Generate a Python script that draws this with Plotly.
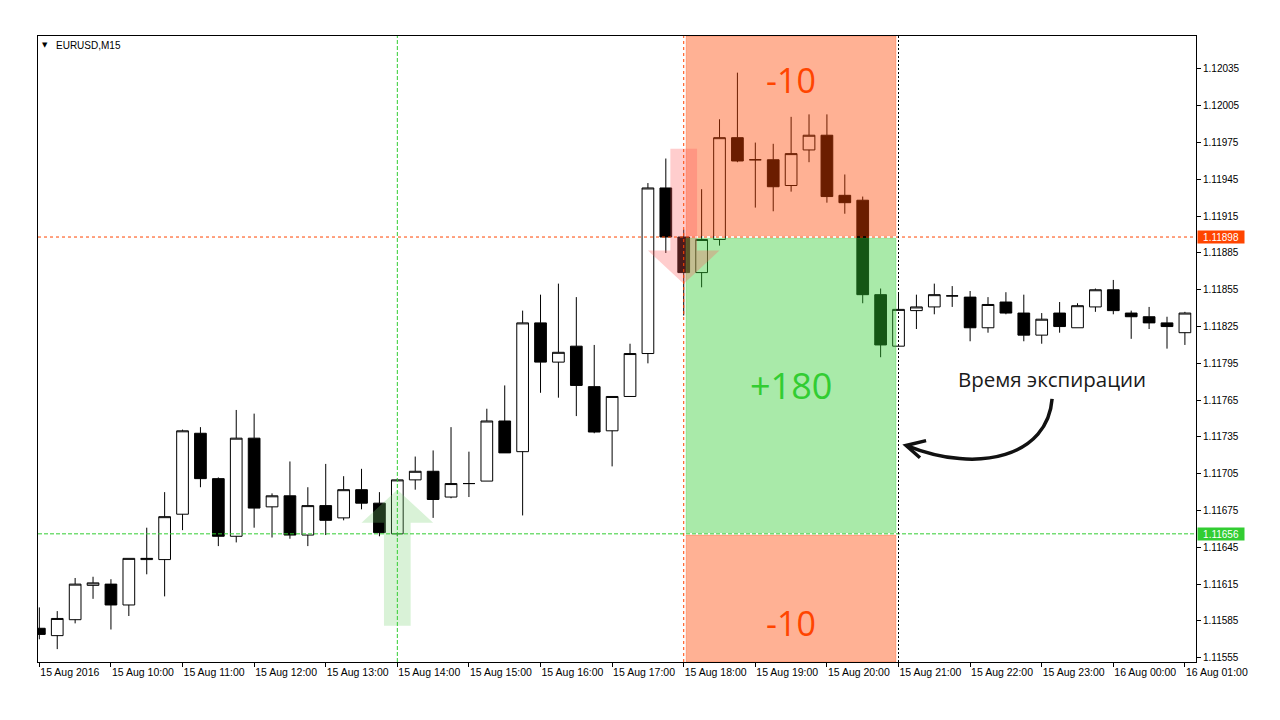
import plotly.graph_objects as go

# ---------------- data ----------------
bar_index = list(range(65))
opens = [1.11579, 1.11573, 1.11586, 1.11614, 1.11615, 1.11598, 1.11635, 1.11635, 1.11672, 1.11738,
         1.11701, 1.11654, 1.11734, 1.11678, 1.11687, 1.11655, 1.11679, 1.11669, 1.11692, 1.11681,
         1.11656, 1.11700, 1.11707, 1.11686, 1.11697, 1.11699, 1.11748, 1.11723, 1.11828, 1.11796,
         1.11809, 1.11776, 1.11740, 1.11768, 1.11803, 1.11938, 1.11898, 1.11869, 1.11896, 1.11979,
         1.11961, 1.11961, 1.11940, 1.11969, 1.11981, 1.11932, 1.11928, 1.11851, 1.11809, 1.11838,
         1.11841, 1.11850, 1.11849, 1.11824, 1.11845, 1.11836, 1.11818, 1.11836, 1.11824, 1.11841,
         1.11855, 1.11836, 1.11833, 1.11828, 1.11820]
highs = [1.11596, 1.11593, 1.11620, 1.11621, 1.11619, 1.11636, 1.11661, 1.11690, 1.11741, 1.11743,
         1.11702, 1.11757, 1.11754, 1.11689, 1.11715, 1.11694, 1.11713, 1.11703, 1.11709, 1.11690,
         1.11701, 1.11719, 1.11724, 1.11743, 1.11723, 1.11758, 1.11777, 1.11838, 1.11851, 1.11860,
         1.11849, 1.11810, 1.11768, 1.11811, 1.11942, 1.11962, 1.11904, 1.11937, 1.11994, 1.12032,
         1.11975, 1.11974, 1.11996, 1.11998, 1.11998, 1.11949, 1.11931, 1.11856, 1.11852, 1.11851,
         1.11860, 1.11858, 1.11854, 1.11849, 1.11853, 1.11851, 1.11836, 1.11845, 1.11844, 1.11856,
         1.11863, 1.11838, 1.11841, 1.11833, 1.11837]
lows = [1.11570, 1.11562, 1.11583, 1.11603, 1.11578, 1.11589, 1.11623, 1.11605, 1.11659, 1.11694,
        1.11646, 1.11649, 1.11661, 1.11653, 1.11652, 1.11646, 1.11655, 1.11667, 1.11676, 1.11654,
        1.11654, 1.11692, 1.11669, 1.11685, 1.11686, 1.11699, 1.11722, 1.11671, 1.11771, 1.11767,
        1.11752, 1.11738, 1.11711, 1.11768, 1.11795, 1.11885, 1.11834, 1.11857, 1.11891, 1.11959,
        1.11922, 1.11919, 1.11935, 1.11959, 1.11926, 1.11917, 1.11844, 1.11800, 1.11809, 1.11823,
        1.11835, 1.11841, 1.11813, 1.11820, 1.11835, 1.11813, 1.11811, 1.11820, 1.11824, 1.11837,
        1.11835, 1.11815, 1.11823, 1.11807, 1.11810]
closes = [1.11574, 1.11587, 1.11615, 1.11616, 1.11598, 1.11636, 1.11636, 1.11670, 1.11740, 1.11701,
          1.11654, 1.11734, 1.11677, 1.11687, 1.11655, 1.11679, 1.11667, 1.11692, 1.11681, 1.11657,
          1.11700, 1.11707, 1.11684, 1.11697, 1.11697, 1.11748, 1.11722, 1.11828, 1.11796, 1.11804,
          1.11777, 1.11739, 1.11768, 1.11803, 1.11938, 1.11898, 1.11869, 1.11896, 1.11979, 1.11960,
          1.11961, 1.11939, 1.11966, 1.11981, 1.11931, 1.11926, 1.11851, 1.11810, 1.11839, 1.11841,
          1.11851, 1.11850, 1.11824, 1.11843, 1.11836, 1.11818, 1.11831, 1.11825, 1.11842, 1.11855,
          1.11838, 1.11833, 1.11828, 1.11825, 1.11836]

time_tick_index = [0, 4, 8, 12, 16, 20, 24, 28, 32, 36, 40, 44, 48, 52, 56, 60, 64]
time_tick_text = ["15 Aug 2016", "15 Aug 10:00", "15 Aug 11:00", "15 Aug 12:00", "15 Aug 13:00",
                  "15 Aug 14:00", "15 Aug 15:00", "15 Aug 16:00", "15 Aug 17:00", "15 Aug 18:00",
                  "15 Aug 19:00", "15 Aug 20:00", "15 Aug 21:00", "15 Aug 22:00", "15 Aug 23:00",
                  "16 Aug 00:00", "16 Aug 01:00"]
price_ticks = [1.11555, 1.11585, 1.11615, 1.11645, 1.11675, 1.11705, 1.11735, 1.11765, 1.11795,
               1.11825, 1.11855, 1.11885, 1.11915, 1.11945, 1.11975, 1.12005, 1.12035]
price_tick_text = ["%.5f" % p for p in price_ticks]

symbol_label = "EURUSD,M15"
signal_bar = 20          # 15 Aug 14:00, buy signal
signal_price = 1.11656
entry_bar = 36           # 15 Aug 18:00, sell signal
entry_price = 1.11898
expiry_bar = 48          # 15 Aug 21:00, expiration
green_zone = [1.11657, 1.11897]
red_zone_top = 1.11899
red_zone_bottom = 1.11655
zone_labels = ["-10", "+180", "-10"]
zone_label_prices = [1.12026, 1.11777, 1.11583]
expiry_text = "Время экспирации"
expiry_text_pos = (56.6, 1.11782)
expiry_curve = [(56.58, 1.11766), (56.35, 1.11720), (52.55, 1.11704), (48.45, 1.11728)]
expiry_head = [(49.54, 1.11732), (48.42, 1.11728), (49.2, 1.11718)]
up_arrow = dict(bar=20, bottom=1.11581, neck=1.11665, tip=1.11692)
down_arrow = dict(bar=36, top=1.11970, neck=1.11887, tip=1.11860)

X_RANGE = [-0.075, 64.62]
Y_RANGE = [1.115515, 1.120619]

ORANGE = "#FF4500"
GREEN = "#32CD32"

fig = go.Figure()
fig.add_trace(go.Candlestick(
    x=bar_index, open=opens, high=highs, low=lows, close=closes,
    increasing=dict(line=dict(color="black", width=1), fillcolor="white"),
    decreasing=dict(line=dict(color="black", width=1), fillcolor="black"),
    whiskerwidth=0, showlegend=False, hoverinfo="skip",
))

shapes = []
zx0 = entry_bar + 0.13
zx1 = expiry_bar - 0.14
# zones
shapes.append(dict(type="rect", xref="x", yref="y", x0=zx0, x1=zx1, y0=red_zone_top, y1=Y_RANGE[1],
                   fillcolor="rgba(255,69,0,0.42)", line=dict(color="rgba(255,69,0,0.25)", width=1), layer="above"))
shapes.append(dict(type="rect", xref="x", yref="y", x0=zx0, x1=zx1, y0=green_zone[0], y1=green_zone[1],
                   fillcolor="rgba(50,205,50,0.42)", line=dict(color="rgba(50,205,50,0.3)", width=1), layer="above"))
shapes.append(dict(type="rect", xref="x", yref="y", x0=zx0, x1=zx1, y0=Y_RANGE[0], y1=red_zone_bottom,
                   fillcolor="rgba(255,69,0,0.42)", line=dict(color="rgba(255,69,0,0.25)", width=1), layer="above"))

# arrows
sw, hw = 0.745, 2.0
b = up_arrow["bar"]
p_up = (f"M {b-sw},{up_arrow['bottom']} L {b-sw},{up_arrow['neck']} L {b-hw},{up_arrow['neck']} "
        f"L {b},{up_arrow['tip']} L {b+hw},{up_arrow['neck']} L {b+sw},{up_arrow['neck']} "
        f"L {b+sw},{up_arrow['bottom']} Z")
shapes.append(dict(type="path", xref="x", yref="y", path=p_up, fillcolor="rgba(120,210,110,0.28)",
                   line=dict(width=0), layer="above"))
b = down_arrow["bar"]
p_dn = (f"M {b-sw},{down_arrow['top']} L {b-sw},{down_arrow['neck']} L {b-hw},{down_arrow['neck']} "
        f"L {b},{down_arrow['tip']} L {b+hw},{down_arrow['neck']} L {b+sw},{down_arrow['neck']} "
        f"L {b+sw},{down_arrow['top']} Z")
shapes.append(dict(type="path", xref="x", yref="y", path=p_dn, fillcolor="rgba(255,90,90,0.30)",
                   line=dict(width=0), layer="above"))

# dashed lines
shapes.append(dict(type="line", xref="x", yref="paper", x0=signal_bar, x1=signal_bar, y0=0, y1=1,
                   line=dict(color=GREEN, width=1, dash="4px,2px"), layer="above"))
shapes.append(dict(type="line", xref="paper", yref="y", x0=0, x1=1, y0=signal_price, y1=signal_price,
                   line=dict(color=GREEN, width=1, dash="4px,2px"), layer="above"))
shapes.append(dict(type="line", xref="x", yref="paper", x0=entry_bar, x1=entry_bar, y0=0, y1=1,
                   line=dict(color=ORANGE, width=1, dash="3px,3px"), layer="above"))
shapes.append(dict(type="line", xref="paper", yref="y", x0=0, x1=1, y0=entry_price, y1=entry_price,
                   line=dict(color=ORANGE, width=1, dash="3px,3px"), layer="above"))
shapes.append(dict(type="line", xref="x", yref="paper", x0=expiry_bar, x1=expiry_bar, y0=0, y1=1,
                   line=dict(color="black", width=1, dash="2px,2px"), layer="above"))

# curved arrow to expiration
c = expiry_curve
shapes.append(dict(type="path", xref="x", yref="y",
                   path=f"M {c[0][0]},{c[0][1]} C {c[1][0]},{c[1][1]} {c[2][0]},{c[2][1]} {c[3][0]},{c[3][1]}",
                   line=dict(color="#111111", width=3.5), layer="above"))
h = expiry_head
shapes.append(dict(type="path", xref="x", yref="y",
                   path=f"M {h[0][0]},{h[0][1]} L {h[1][0]},{h[1][1]} L {h[2][0]},{h[2][1]}",
                   line=dict(color="#111111", width=3.5), layer="above"))

annotations = []
mid_x = (zx0 + zx1) / 2
for txt, py, col, sz in zip(zone_labels, zone_label_prices, [ORANGE, GREEN, ORANGE], [34, 36, 34]):
    annotations.append(dict(x=mid_x, y=py, xref="x", yref="y", text=txt, showarrow=False,
                            font=dict(family="Open Sans", size=sz, color=col)))
annotations.append(dict(x=expiry_text_pos[0], y=expiry_text_pos[1], xref="x", yref="y", text=expiry_text,
                        showarrow=False, font=dict(family="Open Sans", size=20.5, color="#1a1a1a")))
# price tags
for pr, col in [(entry_price, ORANGE), (signal_price, GREEN)]:
    annotations.append(dict(x=1, y=pr, xref="paper", yref="y", xanchor="left", yanchor="middle",
                            text="%.5f" % pr, showarrow=False, bgcolor=col, borderpad=0, xshift=1,
                            width=46, height=12, align="center",
                            font=dict(family="Liberation Sans", size=10, color="white")))
# symbol label
annotations.append(dict(x=0, y=1, xref="paper", yref="paper", xanchor="left", yanchor="top", xshift=2, yshift=-3,
                        text="▼", showarrow=False, font=dict(family="DejaVu Sans", size=7, color="black")))
annotations.append(dict(x=0, y=1, xref="paper", yref="paper", xanchor="left", yanchor="top", xshift=16, yshift=-2,
                        text=symbol_label, showarrow=False, font=dict(family="Liberation Sans", size=10, color="black")))

fig.update_layout(
    width=1264, height=704,
    margin=dict(l=30, r=76, t=28, b=49.5),
    paper_bgcolor="white", plot_bgcolor="white",
    shapes=shapes, annotations=annotations,
    boxgap=0.346, boxgroupgap=0,
    showlegend=False,
    xaxis=dict(range=X_RANGE, tickmode="array", tickvals=time_tick_index, ticktext=time_tick_text,
               ticklabelposition="outside right", ticks="outside", ticklen=4, tickcolor="black",
               showgrid=False, zeroline=False, showline=True, linecolor="black", linewidth=1, mirror=True,
               rangeslider=dict(visible=False),
               tickfont=dict(family="Liberation Sans", size=10.5, color="black")),
    yaxis=dict(range=Y_RANGE, side="right", tickmode="array", tickvals=price_ticks, ticktext=price_tick_text,
               ticks="outside", ticklen=4, tickcolor="black",
               showgrid=False, zeroline=False, showline=True, linecolor="black", linewidth=1, mirror=True,
               tickfont=dict(family="Liberation Sans", size=10, color="black")),
)

fig.write_html("out.html")
